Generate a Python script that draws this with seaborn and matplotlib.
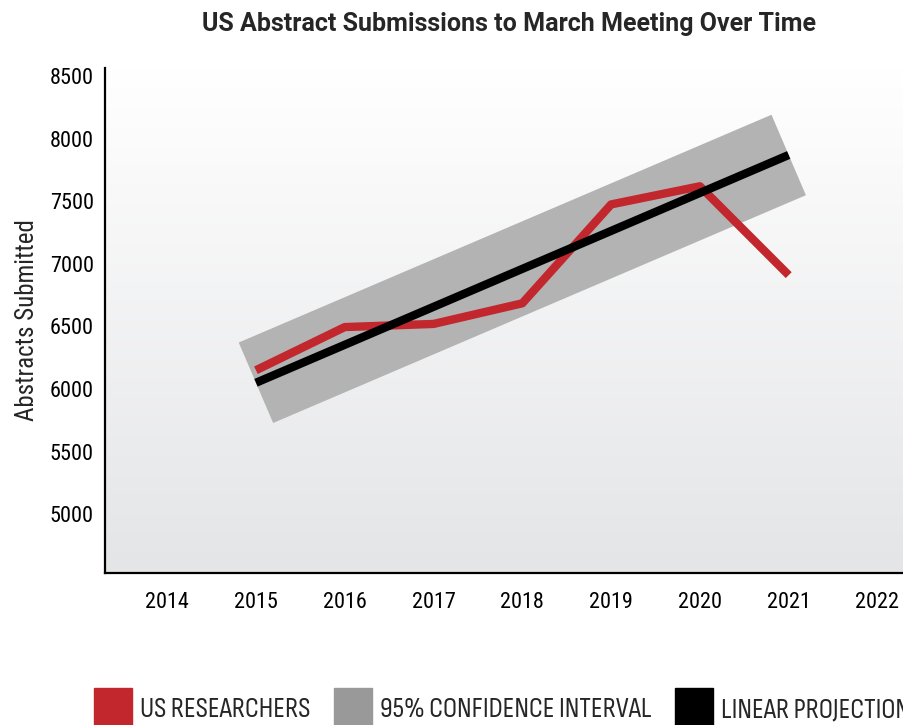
import numpy as np
import pandas as pd
import matplotlib
matplotlib.use("Agg")
import matplotlib.pyplot as plt
from matplotlib.lines import Line2D
import seaborn as sns

# values
years = [2015, 2016, 2017, 2018, 2019, 2020, 2021]
us_researchers = [6150, 6495, 6520, 6685, 7475, 7620, 6910]
proj_years = [2015, 2021]
proj_values = [6050, 7870]
x_ticks = [2014, 2015, 2016, 2017, 2018, 2019, 2020, 2021, 2022]
y_ticks = [5000, 5500, 6000, 6500, 7000, 7500, 8000, 8500]
legend_labels = ["US RESEARCHERS", "95% CONFIDENCE INTERVAL", "LINEAR PROJECTION"]

red = "#c1272d"
band_gray = "#b3b3b3"

sns.set_style("white")
plt.rcParams["font.family"] = ["Roboto Condensed", "DejaVu Sans"]

df = pd.DataFrame({"year": years, "value": us_researchers})
proj = pd.DataFrame({"year": proj_years, "value": proj_values})

fig = plt.figure(figsize=(9.04, 7.25), dpi=100)
ax = fig.add_axes([105 / 904, 1 - 573 / 725, 808 / 904, 505 / 725])

xlim = (2013.30, 2022.40)
ylim = (4530, 8565)

# background gradient, white at top to light grey at the bottom
grad = np.linspace(0, 1, 256).reshape(-1, 1)
cmap = matplotlib.colors.LinearSegmentedColormap.from_list("bg", ["#ffffff", "#e4e5e7"])
ax.imshow(grad, aspect="auto", cmap=cmap, extent=(xlim[0], xlim[1], ylim[0], ylim[1]),
          origin="upper", zorder=0)

# confidence band drawn as a very wide line with flat ends
sns.lineplot(data=proj, x="year", y="value", ax=ax, color=band_gray, linewidth=63,
             solid_capstyle="butt", zorder=1)
sns.lineplot(data=df, x="year", y="value", ax=ax, color=red, linewidth=6,
             solid_capstyle="butt", zorder=2)
sns.lineplot(data=proj, x="year", y="value", ax=ax, color="black", linewidth=6,
             solid_capstyle="butt", zorder=3)

ax.set_xlim(xlim)
ax.set_ylim(ylim)
ax.set_xticks(x_ticks)
ax.set_yticks(y_ticks)
ax.set_xticklabels([str(t) for t in x_ticks])
ax.set_yticklabels([str(t) for t in y_ticks])
ax.tick_params(axis="x", direction="in", length=9, width=1.5, pad=14, labelsize=16, colors="black")
ax.tick_params(axis="y", length=0, pad=8, labelsize=16, colors="black")
ax.set_xlabel("")
ax.set_ylabel("Abstracts Submitted", fontsize=18, labelpad=8)

for s in ["top", "right"]:
    ax.spines[s].set_visible(False)
for s in ["left", "bottom"]:
    ax.spines[s].set_color("black")
    ax.spines[s].set_linewidth(1.6)

ax.set_title("US Abstract Submissions to March Meeting Over Time", fontsize=18,
             fontweight="bold", family=["Roboto", "DejaVu Sans"], pad=27)

handles = [Line2D([], [], marker="s", linestyle="none", markersize=27, color=c)
           for c in [red, "#999999", "black"]]
fig.legend(handles, legend_labels, loc="lower left", bbox_to_anchor=(0.0916, -0.0117),
           ncol=3, frameon=False, handlelength=1.3, handletextpad=0.3,
           columnspacing=0.85, borderaxespad=0,
           prop={"family": ["Sofia Sans Condensed", "DejaVu Sans"], "size": 20.5})

fig.savefig("out.png", dpi=100)
